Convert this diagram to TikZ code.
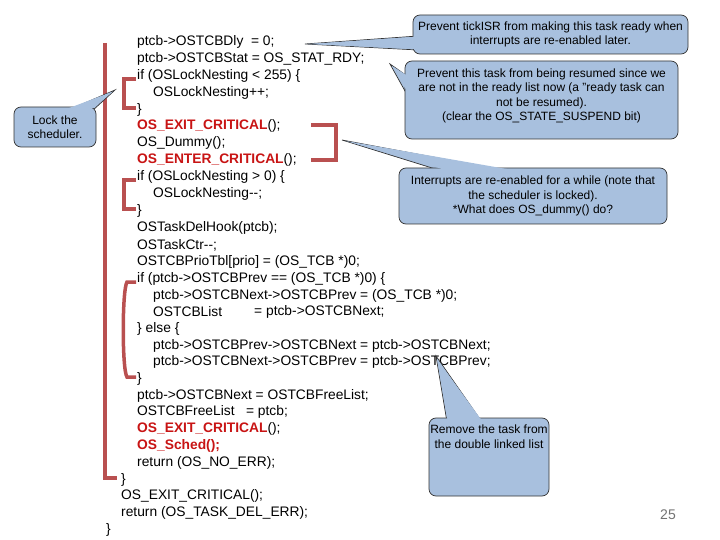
\documentclass[tikz,border=0pt]{standalone}
\usepackage{fontspec}
\setmainfont{Liberation Sans}
\begin{document}
\begin{tikzpicture}[x=1pt,y=-1pt,
  code/.style={anchor=west,inner sep=0pt,font=\fontsize{13.8}{16}\selectfont},
  hot/.style={code,text={rgb,255:red,200;green,20;blue,20},font=\fontsize{13.8}{16}\selectfont\bfseries},
  box/.style={draw=black!80,line width=0.7pt,fill={rgb,255:red,168;green,192;blue,222},rounded corners=7pt,inner sep=0pt},
  ptr/.style={draw=black!80,line width=0.7pt,fill={rgb,255:red,168;green,192;blue,222}},
  ptrfill/.style={fill={rgb,255:red,168;green,192;blue,222}},
  ctext/.style={align=center,inner sep=0pt,font=\fontsize{12}{14.5}\selectfont},
  brk/.style={draw={rgb,255:red,185;green,80;blue,80},line width=3.5pt}]
\useasboundingbox (0,0) rectangle (720,540);
% red brackets
\draw[brk] (105,43) -- (105,478) -- (117,478);
\draw[brk] (136,79) -- (124,79) -- (124,108) -- (136,108);
\draw[brk] (136,180) -- (124,180) -- (124,209) -- (136,209);
\draw[brk] (136,282) -- (127,282) .. controls (122,290) and (122,370) .. (127,377) -- (136,377);
\draw[brk] (311,125) -- (336,125) -- (336,160) -- (311,160);
% code
\node[code] (l1) at (137,42) {ptcb->OSTCBDly\ \ = 0;};
\node[code] (l2) at (137,59) {ptcb->OSTCBStat = OS\_STAT\_RDY;};
\node[code] (l3) at (137,76) {if (OSLockNesting < 255) \{};
\node[code] (l4) at (153,93) {OSLockNesting++;};
\node[code] (l5) at (137,110) {\}};
\node[hot] (l6) at (137,126) {OS\_EXIT\_CRITICAL\textmd{\color{black}();}};
\node[code] (l7) at (137,143) {OS\_Dummy();};
\node[hot] (l8) at (137,160) {OS\_ENTER\_CRITICAL\textmd{\color{black}();}};
\node[code] (l9) at (137,177) {if (OSLockNesting > 0) \{};
\node[code] (l10) at (153,194) {OSLockNesting-{}-;};
\node[code] (l11) at (137,211) {\}};
\node[code] (l12) at (137,228) {OSTaskDelHook(ptcb);};
\node[code] (l13) at (137,245) {OSTaskCtr-{}-;};
\node[code] (l14) at (137,262) {OSTCBPrioTbl[prio] = (OS\_TCB *)0;};
\node[code] (l15) at (137,279) {if (ptcb->OSTCBPrev == (OS\_TCB *)0) \{};
\node[code] (l16) at (153,296) {ptcb->OSTCBNext->OSTCBPrev = (OS\_TCB *)0;};
\node[code] (l17) at (153,312) {OSTCBList};
\node[code] (l17b) at (254,312) {= ptcb->OSTCBNext;};
\node[code] (l18) at (137,329) {\} else \{};
\node[code] (l19) at (153,346) {ptcb->OSTCBPrev->OSTCBNext = ptcb->OSTCBNext;};
\node[code] (l20) at (153,362) {ptcb->OSTCBNext->OSTCBPrev = ptcb->OSTCBPrev;};
\node[code] (l21) at (137,379) {\}};
\node[code] (l22) at (137,396) {ptcb->OSTCBNext = OSTCBFreeList;};
\node[code] (l23) at (137,412) {OSTCBFreeList\ \ \ = ptcb;};
\node[hot] (l24) at (137,429) {OS\_EXIT\_CRITICAL\textmd{\color{black}();}};
\node[hot] (l25) at (137,446) {OS\_Sched();};
\node[code] (l26) at (137,463) {return (OS\_NO\_ERR);};
\node[code] (l27) at (121,480) {\}};
\node[code] (l28) at (121,496) {OS\_EXIT\_CRITICAL();};
\node[code] (l29) at (121,513) {return (OS\_TASK\_DEL\_ERR);};
\node[code] (l30) at (106,530) {\}};
% callout 1
\coordinate (t1) at (305,44);
\draw[ptr] (t1) -- (418,36) -- (418,50) -- cycle;
\node[box,minimum width=275pt,minimum height=39pt] (c1) at (550.5,34.5) {};
\fill[ptrfill] (t1) ++(3,0) -- (420,36.5) -- (420,49.5) -- cycle;
\node[ctext] (c1t) at (c1) {Prevent tickISR from making this task ready when\\interrupts are re-enabled later.};
% callout 2
\coordinate (t2) at (390,64);
\draw[ptr] (t2) -- (410,78) -- (410,100) -- cycle;
\node[box,minimum width=273pt,minimum height=78pt] (c2) at (541.5,100) {};
\fill[ptrfill] (392,66) -- (412,78.5) -- (412,99.5) -- cycle;
\node[ctext] (c2t) at (541.5,96) {Prevent this task from being resumed since we\\are not in the ready list now (a "ready task can\\not be resumed).\\(clear the OS\_STATE\_SUSPEND bit)};
% callout 3
\coordinate (t3) at (342,140);
\draw[ptr] (t3) -- (513,172) -- (445,172) -- cycle;
\node[box,minimum width=268pt,minimum height=56pt] (c3) at (533,196) {};
\fill[ptrfill] (346,141) -- (512.5,170) -- (445.5,170) -- cycle;
\node[ctext] (c3t) at (c3) {Interrupts are re-enabled for a while (note that\\the scheduler is locked).\\*What does OS\_dummy() do?};
% callout 4
\coordinate (t4) at (115,90);
\draw[ptr] (t4) -- (92,111) -- (66,111) -- cycle;
\node[box,minimum width=82pt,minimum height=40pt] (c4) at (55,127) {};
\fill[ptrfill] (113,91.5) -- (91.5,109) -- (66.5,109) -- cycle;
\node[ctext] (c4t) at (c4) {Lock the\\scheduler.};
% callout 5
\coordinate (t5) at (436,356);
\draw[ptr] (t5) -- (482,422) -- (447,422) -- cycle;
\node[box,minimum width=120pt,minimum height=78pt] (c5) at (489,457) {};
\fill[ptrfill] (437,359) -- (481.5,420) -- (447.5,420) -- cycle;
\node[ctext,anchor=north] (c5t) at (489,425) {Remove the task from\\the double linked list};
% page number
\node[inner sep=0pt,text=black!55,font=\fontsize{14}{16}\selectfont] (pg) at (668,515) {25};
\end{tikzpicture}
\end{document}
